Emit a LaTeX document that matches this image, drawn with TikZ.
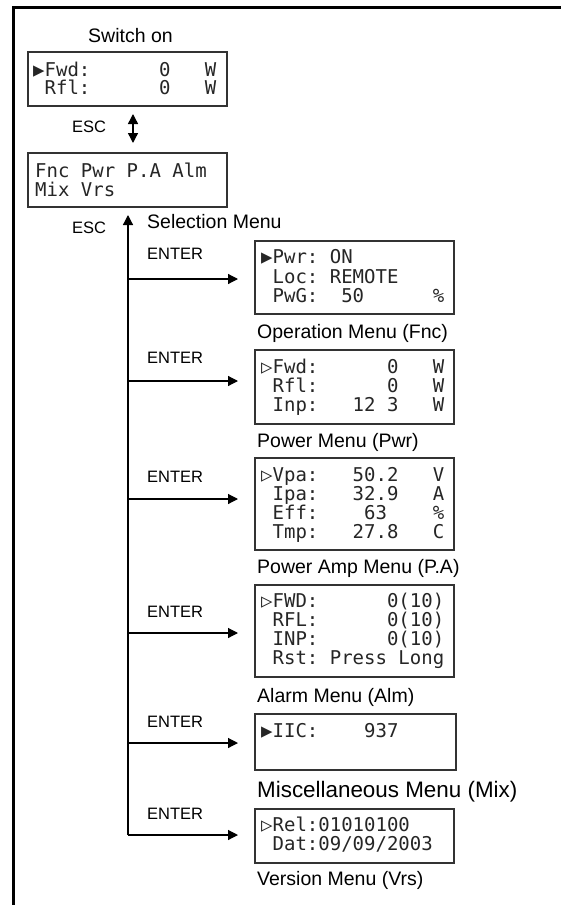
\documentclass[tikz,border=0pt]{standalone}
\usepackage{fontspec}
\setmainfont{Liberation Sans}
\newfontfamily\lcdfont{DejaVu Sans Mono}
\usetikzlibrary{arrows.meta,calc}
\begin{document}
\begin{tikzpicture}[x=1pt,y=-1pt,
  lcdbox/.style={draw=black!80, line width=2pt, fill=white, inner sep=0pt, anchor=north west, minimum width=199pt},
  lcd/.style={anchor=base west, inner sep=0pt, font=\lcdfont\fontsize{19}{19}\selectfont, text=black!85},
  lbl/.style={anchor=base west, inner sep=0pt, font=\fontsize{19.5}{22}\selectfont},
  key/.style={anchor=base west, inner sep=0pt, font=\fontsize{16.5}{19}\selectfont},
  conn/.style={line width=1.2pt, -{Triangle[length=10pt,width=10pt]}},
]
\useasboundingbox (0,0) rectangle (561,905);
\draw[line width=3pt] (561,7) -- (13,7) -- (13,905);

% boxes
\node[lcdbox, minimum height=54pt] (b1) at (27,51) {};
\node[lcdbox, minimum height=54pt] (b2) at (27,152) {};
\node[lcdbox, minimum height=73pt] (fnc) at (254,240) {};
\node[lcdbox, minimum height=74pt] (pwr) at (254,349) {};
\node[lcdbox, minimum height=92pt] (pa) at (254,457) {};
\node[lcdbox, minimum height=92pt] (alm) at (254,584) {};
\node[lcdbox, minimum height=56pt, minimum width=201pt] (mix) at (254,713) {};
\node[lcdbox, minimum height=54pt] (vrs) at (254,808) {};

% LCD texts
\node[lcd] (b1a) at (33,76) {▶Fwd:~~~~~~0~~~W};
\node[lcd] (b1b) at (33,94) {~Rfl:~~~~~~0~~~W};
\node[lcd] (b2a) at (35,177) {Fnc~Pwr~P.A~Alm};
\node[lcd] (b2b) at (35,196) {Mix~Vrs};

\node[lcd] (fa) at (261,263) {▶Pwr:~ON};
\node[lcd] (fb) at (261,283) {~Loc:~REMOTE};
\node[lcd] (fc) at (261,302) {~PwG:~~50~~~~~~\%};

\node[lcd] (pwa) at (261,373) {▷Fwd:~~~~~~0~~~W};
\node[lcd] (pwb) at (261,392) {~Rfl:~~~~~~0~~~W};
\node[lcd] (pwc) at (261,411) {~Inp:~~~12~3~~~W};

\node[lcd] (paa) at (261,481) {▷Vpa:~~~50.2~~~V};
\node[lcd] (pab) at (261,500) {~Ipa:~~~32.9~~~A};
\node[lcd] (pac) at (261,519) {~Eff:~~~~63~~~~\%};
\node[lcd] (pad) at (261,538) {~Tmp:~~~27.8~~~C};

\node[lcd] (ala) at (261,607) {▷FWD:~~~~~~0(10)};
\node[lcd] (alb) at (261,626) {~RFL:~~~~~~0(10)};
\node[lcd] (alc) at (261,645) {~INP:~~~~~~0(10)};
\node[lcd] (ald) at (261,664) {~Rst:~Press~Long};

\node[lcd] (mxa) at (261,737) {▶IIC:~~~~937};

\node[lcd] (vra) at (261,831) {▷Rel:01010100};
\node[lcd] (vrb) at (261,850) {~Dat:09/09/2003};

% labels
\node[lbl] (lsw) at (88,42) {Switch on};
\node[key] (esc1) at (72,132) {ESC};
\node[key] (esc2) at (72,233) {ESC};
\node[lbl] (lsel) at (147,228) {Selection Menu};
\node[lbl] (lfnc) at (257,338) {Operation Menu (Fnc)};
\node[lbl] (lpwr) at (257,447) {Power Menu (Pwr)};
\node[lbl] (lpa) at (257,573) {Power Amp Menu (P.A)};
\node[lbl] (lalm) at (257,702) {Alarm Menu (Alm)};
\node[lbl, font=\fontsize{22.4}{26}\selectfont] (lmix) at (257,797) {Miscellaneous Menu (Mix)};
\node[lbl] (lvrs) at (257,885) {Version Menu (Vrs)};

\node[key] (e1) at (147,259) {ENTER};
\node[key] (e2) at (147,363) {ENTER};
\node[key] (e3) at (147,482) {ENTER};
\node[key] (e4) at (147,617) {ENTER};
\node[key] (e5) at (147,727) {ENTER};
\node[key] (e6) at (147,819) {ENTER};

% connectors
\draw[line width=1.4pt, {Triangle[length=10pt,width=10pt]}-{Triangle[length=10pt,width=10pt]},
      shorten <=7pt, shorten >=9pt] ([xshift=5.5pt]b1.south) -- ([xshift=5.5pt]b2.north);

\coordinate (j1) at (128,279);
\coordinate (j2) at (128,381);
\coordinate (j3) at (128,499);
\coordinate (j4) at (128,633);
\coordinate (j5) at (128,743);
\coordinate (j6) at (128,835);

\draw[conn, shorten >=7pt] (j6) -- (j6 |- b2.south);
\draw[conn, shorten >=16pt] (j1) -- (j1 -| fnc.west);
\draw[conn, shorten >=16pt] (j2) -- (j2 -| pwr.west);
\draw[conn, shorten >=16pt] (j3) -- (j3 -| pa.west);
\draw[conn, shorten >=16pt] (j4) -- (j4 -| alm.west);
\draw[conn, shorten >=16pt] (j5) -- (j5 -| mix.west);
\draw[conn, shorten >=16pt] (j6) -- (j6 -| vrs.west);
\end{tikzpicture}
\end{document}
